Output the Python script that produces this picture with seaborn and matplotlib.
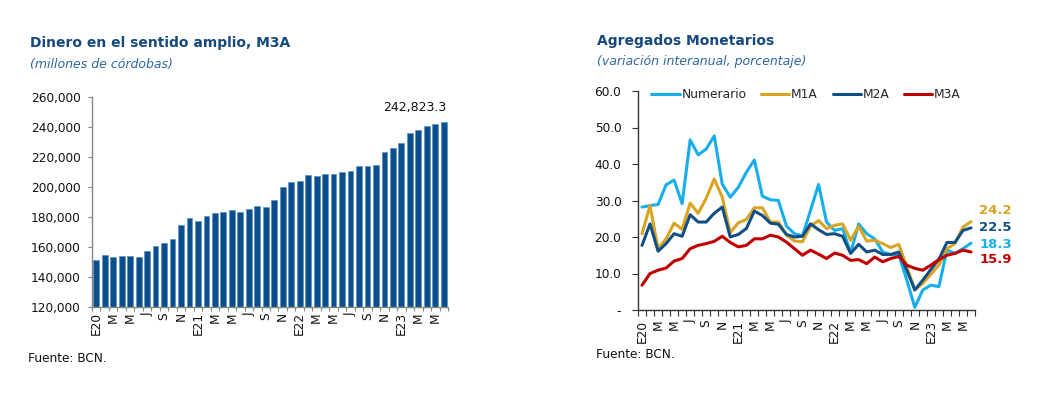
import numpy as np
import pandas as pd
import matplotlib
matplotlib.use("Agg")
import matplotlib.pyplot as plt
import seaborn as sns
from matplotlib.ticker import FixedLocator, StrMethodFormatter, FixedFormatter

# ---------------- data ----------------
month_labels = ["E20", "", "M", "", "M", "", "J", "", "S", "", "N", "",
                "E21", "", "M", "", "M", "", "J", "", "S", "", "N", "",
                "E22", "", "M", "", "M", "", "J", "", "S", "", "N", "",
                "E23", "", "M", "", "M", ""]

m3a_level = [150900, 154200, 152900, 153600, 153600, 152900, 156900, 160400,
             162200, 164900, 174200, 179300, 177100, 180400, 182400, 183100,
             184400, 183100, 185300, 187100, 186400, 191100, 200000, 203300,
             204000, 208000, 207300, 208700, 208200, 209600, 210200, 213600,
             213600, 214700, 223100, 225600, 229100, 235800, 237800, 240400,
             242000, 242823.3]

numerario = [28.2, 28.6, 28.9, 34.3, 35.6, 29.1, 46.6, 42.5, 44.1, 47.7, 34.5,
             30.9, 33.6, 37.7, 41.1, 31.2, 30.2, 30.0, 23.0, 20.9, 20.3, 27.3,
             34.4, 24.1, 21.8, 22.3, 15.6, 23.6, 20.9, 19.5, 15.9, 15.2, 15.2,
             8.2, 0.7, 5.5, 6.8, 6.4, 16.4, 15.5, 16.8, 18.3]
m1a = [20.9, 28.6, 16.8, 19.5, 23.8, 22.1, 29.3, 26.5, 30.6, 35.9, 30.9, 21.2,
       23.9, 24.8, 28.0, 28.0, 24.1, 24.1, 20.5, 18.9, 18.7, 23.0, 24.5, 22.3,
       23.2, 23.6, 19.1, 22.9, 18.9, 19.1, 18.2, 17.1, 18.0, 11.8, 5.5, 7.3,
       9.8, 12.3, 16.8, 18.2, 22.7, 24.2]
m2a = [17.7, 23.6, 16.1, 18.2, 20.9, 20.2, 26.1, 24.1, 24.1, 26.5, 28.2, 20.0,
       20.7, 22.3, 27.1, 25.9, 23.8, 23.5, 20.7, 20.0, 20.2, 23.6, 22.0, 20.7,
       20.9, 20.2, 15.5, 18.0, 15.9, 16.4, 15.2, 15.2, 15.9, 10.9, 5.5, 8.2,
       11.1, 13.9, 18.5, 18.5, 21.8, 22.5]
m3a = [6.8, 10.0, 10.9, 11.5, 13.4, 14.1, 16.8, 17.7, 18.2, 18.8, 20.2, 18.5,
       17.3, 17.7, 19.5, 19.5, 20.5, 20.0, 18.6, 16.8, 15.0, 16.4, 15.3, 14.1,
       15.6, 15.0, 13.6, 13.8, 12.7, 14.5, 13.2, 14.1, 14.7, 12.3, 11.4, 10.9,
       12.3, 13.8, 15.0, 15.5, 16.4, 15.9]

series_names = ["Numerario", "M1A", "M2A", "M3A"]
left_yticks = [120000, 140000, 160000, 180000, 200000, 220000, 240000, 260000]
right_yticks = [0, 10, 20, 30, 40, 50, 60]
right_ytick_labels = ["-", "10.0", "20.0", "30.0", "40.0", "50.0", "60.0"]

# ---------------- style ----------------
sns.set_theme(style="white")
plt.rcParams['font.family'] = ['DejaVu Sans']
plt.rcParams['axes.facecolor'] = 'white'

colors = {"Numerario": "#18AEEA", "M1A": "#D9A521", "M2A": "#114F86", "M3A": "#C00000"}
title_color = "#17497E"
sub_color = "#2D679E"
bar_color = "#0A4F8C"

fig = plt.figure(figsize=(10.38, 3.95), dpi=100)
ax1 = fig.add_axes([92/1038, 1-306.7/395, (448-92)/1038, (306.7-96.7)/395])
ax2 = fig.add_axes([638/1038, 1-310/395, (975-638)/1038, (310-91)/395])

n = len(month_labels)
idx = list(range(n))

# ---------------- left: bars ----------------
df1 = pd.DataFrame({"mes": idx, "valor": m3a_level})
sns.barplot(data=df1, x="mes", y="valor", color=bar_color, saturation=1,
            width=0.68, ax=ax1, edgecolor="#5C93C7", linewidth=0.5)
ax1.set_xlim(-0.5, n - 0.5)
ax1.set_ylim(left_yticks[0], left_yticks[-1])
ax1.yaxis.set_major_locator(FixedLocator(left_yticks))
ax1.yaxis.set_major_formatter(StrMethodFormatter("{x:,.0f}"))
ax1.set_xticks(idx)
ax1.set_xticklabels(month_labels, rotation=90)
ax1.set_xticks(np.arange(-0.5, n, 1), minor=True)
ax1.tick_params(axis='x', which='major', length=0, pad=4, labelsize=8.7, colors='#111111')
ax1.tick_params(axis='x', which='minor', length=3, color='#868686', width=0.8, bottom=True)
ax1.tick_params(axis='y', length=3, color='#868686', width=0.8, pad=5, labelsize=8.7,
                colors='#111111', left=True)
ax1.tick_params(axis='y', colors='#868686')
for lab in ax1.get_yticklabels():
    lab.set_color('#111111')
ax1.set_xlabel("")
ax1.set_ylabel("")
for s in ["top", "right"]:
    ax1.spines[s].set_visible(False)
for s in ["left", "bottom"]:
    ax1.spines[s].set_color('#868686')
    ax1.spines[s].set_linewidth(1.0)
ax1.annotate(f"{m3a_level[-1]:,.1f}", xy=(n - 1 + 0.3, m3a_level[-1]), xytext=(0, 6),
             textcoords="offset points", ha="right", va="bottom", fontsize=9, color='#111111')

# ---------------- right: lines ----------------
df2 = pd.DataFrame({
    "mes": idx * 4,
    "valor": numerario + m1a + m2a + m3a,
    "serie": [s for s in series_names for _ in idx],
})
sns.lineplot(data=df2, x="mes", y="valor", hue="serie", hue_order=series_names,
             palette=colors, linewidth=2.2, ax=ax2, legend=True)
for line in ax2.lines:
    line.set_solid_joinstyle('round')
    line.set_solid_capstyle('round')
ax2.set_xlim(-0.5, n - 0.5)
ax2.set_ylim(0, 60)
ax2.yaxis.set_major_locator(FixedLocator(right_yticks))
ax2.yaxis.set_major_formatter(FixedFormatter(right_ytick_labels))
ax2.set_xticks(idx)
ax2.set_xticklabels(month_labels, rotation=90)
ax2.set_xticks(np.arange(-0.5, n, 1), minor=True)
ax2.tick_params(axis='x', which='major', length=0, pad=7, labelsize=8.7, colors='#111111')
ax2.tick_params(axis='x', which='minor', length=4, color='#333333', width=0.8, bottom=True)
ax2.tick_params(axis='y', length=4, color='#333333', width=0.8, pad=8, labelsize=8.7, left=True)
for lab in ax2.get_yticklabels():
    lab.set_color('#111111')
ax2.set_xlabel("")
ax2.set_ylabel("")
for s in ["top", "right"]:
    ax2.spines[s].set_visible(False)
for s in ["left", "bottom"]:
    ax2.spines[s].set_color('#333333')
    ax2.spines[s].set_linewidth(1.0)

handles, labels = ax2.get_legend_handles_labels()
ax2.legend(handles, labels, loc="center left", bbox_to_anchor=(0.04, 0.985), ncol=4,
           frameon=False, fontsize=8.8, handlelength=2.3, handletextpad=0.15,
           columnspacing=1.2, borderpad=0, borderaxespad=0)

end_offsets = {"Numerario": -1, "M1A": 8, "M2A": 0, "M3A": -5.5}
for name, vals in zip(series_names, [numerario, m1a, m2a, m3a]):
    ax2.annotate(f"{vals[-1]:.1f}", xy=(n - 1, vals[-1]), xytext=(6, end_offsets[name]),
                 textcoords="offset points", ha="left", va="center", fontsize=9.5,
                 fontweight="bold", color=colors[name], annotation_clip=False)

# ---------------- titles & sources ----------------
fig.text(30/1038, 1-42.5/395, "Dinero en el sentido amplio, M3A", fontsize=10,
         fontweight="bold", color=title_color, ha="left", va="center")
fig.text(30/1038, 1-64.5/395, "(millones de córdobas)", fontsize=9, style="italic",
         color=sub_color, ha="left", va="center")
fig.text(597/1038, 1-41.5/395, "Agregados Monetarios", fontsize=10,
         fontweight="bold", color=title_color, ha="left", va="center")
fig.text(597/1038, 1-61/395, "(variación interanual, porcentaje)", fontsize=9,
         style="italic", color=sub_color, ha="left", va="center")
fig.text(28/1038, 1-358/395, "Fuente: BCN.", fontsize=8.7, color='#111111',
         ha="left", va="center")
fig.text(596/1038, 1-354/395, "Fuente: BCN.", fontsize=8.7, color='#111111',
         ha="left", va="center")

fig.savefig("out.png", dpi=100, facecolor="white")
